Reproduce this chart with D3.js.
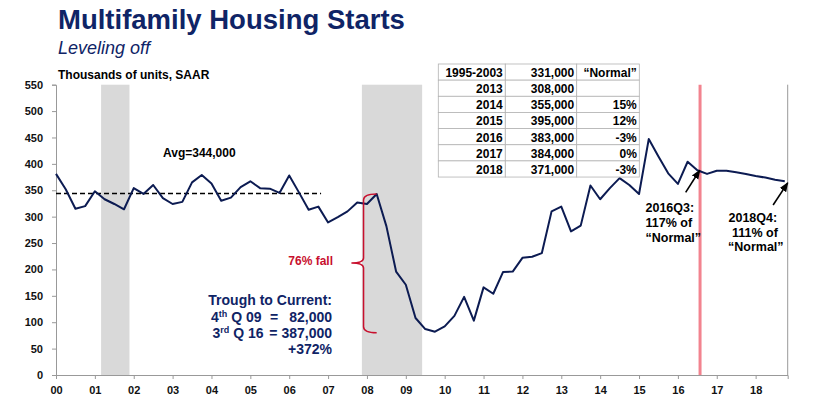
<!DOCTYPE html>
<html>
<head>
<meta charset="utf-8">
<script src="https://cdn.jsdelivr.net/npm/d3@7/dist/d3.min.js"></script>
<style>
  html, body { margin: 0; padding: 0; background: #fff; }
  svg { display: block; font-family: "Liberation Sans", Arial, Helvetica, sans-serif; }
</style>
</head>
<body>
<svg id="chart" width="830" height="414"></svg>
<script>
// ---- Data (quarterly, thousands of units, SAAR), 2000Q1 .. 2018Q4 ----
const years = [2000,2001,2002,2003,2004,2005,2006,2007,2008,2009,2010,2011,2012,2013,2014,2015,2016,2017,2018];
const xTickLabels = ["00","01","02","03","04","05","06","07","08","09","10","11","12","13","14","15","16","17","18"];
const starts = [
  381, 352, 315, 320, 348, 333, 324, 314,   // 2000-2001
  354, 343, 360, 335, 324, 328, 365, 379,   // 2002-2003
  363, 330, 336, 356, 367, 354, 353, 345,   // 2004-2005
  378, 346, 313, 319, 289, 299, 310, 327,   // 2006-2007
  324, 343, 282, 196, 171, 108,  87,  82,   // 2008-2009
   92, 112, 148, 103, 166, 154, 195, 196,   // 2010-2011
  222, 224, 231, 310, 319, 272, 283, 359,   // 2012-2013
  333, 354, 373, 360, 343, 447, 414, 382,   // 2014-2015
  362, 404, 388, 381, 387, 387, 384, 381,   // 2016-2017
  377, 374, 370, 367                        // 2018
];
const yTicks = [0,50,100,150,200,250,300,350,400,450,500,550];
const recessions = [[2001.16, 2001.89], [2007.87, 2009.42]];
const avgValue = 344;
const avgEnd = 2006.82;
const markerYear = 2016.57;
const tableRows = [
  ["1995-2003", "331,000", "\u201CNormal\u201D"],
  ["2013", "308,000", ""],
  ["2014", "355,000", "15%"],
  ["2015", "395,000", "12%"],
  ["2016", "383,000", "-3%"],
  ["2017", "384,000", "0%"],
  ["2018", "371,000", "-3%"]
];

// ---- Layout ----
const svg = d3.select("#chart");
const pLeft = 56, pRight = 787.7, pTop = 84.7, pBottom = 375;
const navy = "#0f2466";
const lineColor = "#0c1b52";

const toIdx = yr => (yr - 2000) * 4;
const x = d3.scaleLinear().domain([0, 75.3]).range([pLeft, pRight]);
const y = d3.scaleLinear().domain([0, 550]).range([pBottom, pTop]);

// Titles
svg.append("text").attr("x", 58).attr("y", 29).attr("fill", navy)
  .attr("font-size", 27.5).attr("font-weight", "bold").text("Multifamily Housing Starts");
svg.append("text").attr("x", 58).attr("y", 54).attr("fill", navy)
  .attr("font-size", 18).attr("font-style", "italic").text("Leveling off");
svg.append("text").attr("x", 58).attr("y", 79).attr("fill", "#000")
  .attr("font-size", 12).attr("font-weight", "bold").text("Thousands of units, SAAR");

// Recession bands
svg.append("g").selectAll("rect").data(recessions).join("rect")
  .attr("x", d => x(toIdx(d[0])))
  .attr("width", d => x(toIdx(d[1])) - x(toIdx(d[0])))
  .attr("y", y(550)).attr("height", y(0) - y(550))
  .attr("fill", "#d9d9d9");

// Red vertical marker
svg.append("line")
  .attr("x1", x(toIdx(markerYear))).attr("x2", x(toIdx(markerYear)))
  .attr("y1", y(550)).attr("y2", y(0))
  .attr("stroke", "#f2838f").attr("stroke-width", 3);

// Axes
const yAxis = d3.axisLeft(y).tickValues(yTicks).tickSize(4).tickPadding(9);
const gy = svg.append("g").attr("transform", `translate(${pLeft},0)`).call(yAxis);
gy.select(".domain").attr("stroke", "#999");
gy.selectAll(".tick line").attr("stroke", "#999");
gy.selectAll(".tick text").attr("font-size", 11).attr("font-weight", "bold")
  .attr("fill", "#111").attr("font-family", "Liberation Sans, Arial, sans-serif");

const xAxis = d3.axisBottom(x).tickValues(years.map(toIdx))
  .tickFormat((d, i) => xTickLabels[i]).tickSize(4).tickPadding(7);
const gx = svg.append("g").attr("transform", `translate(0,${pBottom})`).call(xAxis);
gx.select(".domain").attr("stroke", "#999");
gx.selectAll(".tick line").attr("stroke", "#999");
gx.selectAll(".tick text").attr("font-size", 11).attr("font-weight", "bold")
  .attr("fill", "#111").attr("font-family", "Liberation Sans, Arial, sans-serif");

// right border
svg.append("line").attr("x1", pRight).attr("x2", pRight).attr("y1", y(550)).attr("y2", y(0))
  .attr("stroke", "#999").attr("stroke-width", 1);

// Average dashed line
svg.append("line")
  .attr("x1", x(0)).attr("x2", x(toIdx(avgEnd)))
  .attr("y1", y(avgValue)).attr("y2", y(avgValue))
  .attr("stroke", "#000").attr("stroke-width", 1.4).attr("stroke-dasharray", "5,3");
svg.append("text").attr("x", 163).attr("y", 157).attr("font-size", 12)
  .attr("font-weight", "bold").attr("fill", "#000").text("Avg=344,000");

// Data line
const line = d3.line().x((d, i) => x(i)).y(d => y(d));
svg.append("path").datum(starts).attr("d", line)
  .attr("fill", "none").attr("stroke", lineColor).attr("stroke-width", 2)
  .attr("stroke-linejoin", "round");

// Table
const tY = 64, rowH = 16.15;
const colX = [438.3, 505.3, 576.7, 639.3];
const tg = svg.append("g");
tableRows.forEach((row, r) => {
  for (let c = 0; c < 3; c++) {
    tg.append("rect").attr("x", colX[c]).attr("y", tY + r * rowH)
      .attr("width", colX[c + 1] - colX[c]).attr("height", rowH)
      .attr("fill", "#fff").attr("stroke", "#b3b3b3").attr("stroke-width", 0.8);
    tg.append("text").attr("x", colX[c + 1] - 2.5).attr("y", tY + r * rowH + 13)
      .attr("text-anchor", "end").attr("font-size", 12).attr("font-weight", "bold")
      .attr("fill", "#000").text(row[c]);
  }
});

// 76% fall bracket
const red = "#c8102e";
const bx = x(31.65), bTop = y(343), bBot = y(80), bMid = y(212), bTip = x(30.4), bEnd = x(33.0);
svg.append("path")
  .attr("d", `M${bEnd},${bTop} Q${bx},${bTop} ${bx},${bTop + 6} L${bx},${bMid - 5} Q${bx},${bMid} ${bTip},${bMid} Q${bx},${bMid} ${bx},${bMid + 5} L${bx},${bBot - 6} Q${bx},${bBot} ${bEnd},${bBot}`)
  .attr("fill", "none").attr("stroke", red).attr("stroke-width", 1.5);
svg.append("text").attr("x", 333).attr("y", 265).attr("text-anchor", "end")
  .attr("font-size", 12).attr("font-weight", "bold").attr("fill", red).text("76% fall");

// Trough to current
const tt = svg.append("g").attr("fill", navy).attr("font-size", 14).attr("font-weight", "bold");
tt.append("text").attr("x", 332).attr("y", 305).attr("text-anchor", "end").text("Trough to Current:");
const l1 = tt.append("text").attr("x", 211).attr("y", 321.5);
l1.append("tspan").text("4");
l1.append("tspan").attr("font-size", 9).attr("dy", -5).text("th");
l1.append("tspan").attr("dy", 5).text(" Q 09");
tt.append("text").attr("x", 270).attr("y", 321.5).text("=");
tt.append("text").attr("x", 332).attr("y", 321.5).attr("text-anchor", "end").text("82,000");
const l2 = tt.append("text").attr("x", 212.5).attr("y", 337.5);
l2.append("tspan").text("3");
l2.append("tspan").attr("font-size", 9).attr("dy", -5).text("rd");
l2.append("tspan").attr("dy", 5).text(" Q 16");
tt.append("text").attr("x", 332).attr("y", 337.5).attr("text-anchor", "end").text("= 387,000");
tt.append("text").attr("x", 332).attr("y", 354).attr("text-anchor", "end").text("+372%");

// Arrows
const defs = svg.append("defs");
defs.append("marker").attr("id", "arr").attr("viewBox", "0 0 10 10").attr("refX", 9).attr("refY", 5)
  .attr("markerWidth", 6).attr("markerHeight", 6).attr("orient", "auto")
  .append("path").attr("d", "M0,1 L10,5 L0,9 Z").attr("fill", "#000");
function arrow(i0, v0, i1, v1) {
  svg.append("line").attr("x1", x(i0)).attr("y1", y(v0)).attr("x2", x(i1)).attr("y2", y(v1))
    .attr("stroke", "#000").attr("stroke-width", 1.6).attr("marker-end", "url(#arr)");
}
arrow(64.8, 346, 66.25, 388);
arrow(73.8, 322, 75.3, 364);

const a1 = svg.append("text").attr("font-size", 12.5).attr("font-weight", "bold").attr("fill", "#000");
[["2016Q3:", 211.5], ["117% of", 227], ["\u201CNormal\u201D", 242]].forEach(d => {
  a1.append("tspan").attr("x", 645.5).attr("y", d[1]).text(d[0]);
});
const a2 = svg.append("text").attr("font-size", 12.5).attr("font-weight", "bold").attr("fill", "#000");
[["2018Q4:", 728.5, 221.5], ["111% of", 732, 236.5], ["\u201CNormal\u201D", 728, 251]].forEach(d => {
  a2.append("tspan").attr("x", d[1]).attr("y", d[2]).text(d[0]);
});
</script>
</body>
</html>
